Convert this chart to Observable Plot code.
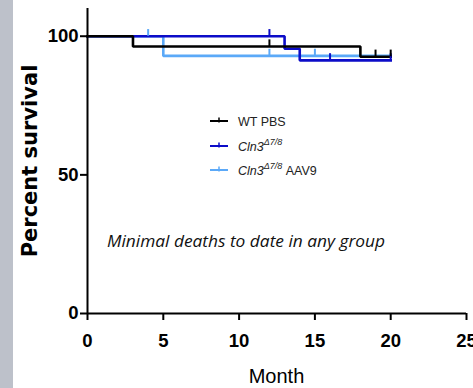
<!DOCTYPE html>
<html><head><meta charset="utf-8">
<script src="https://cdn.jsdelivr.net/npm/d3@7"></script>
<script src="https://cdn.jsdelivr.net/npm/@observablehq/plot@0.6"></script>
<style>html,body{margin:0;padding:0;background:#fff;overflow:hidden}</style>
</head><body><div id="chart"></div>
<script>
// ---- data ----
const seriesNames = ["WT PBS", "Cln3", "Cln3 AAV9"];
const seriesColors = ["#000000", "#0c0cc8", "#5ba9f8"];
const wtMonths = [0, 3, 18, 20];
const wtSurvival = [100, 96.3, 92.6, 92.6];
const wtCensored = [12, 19, 20];
const cln3Months = [0, 13, 14, 20];
const cln3Survival = [100, 95.5, 91.3, 91.3];
const cln3Censored = [12, 16, 20];
const aavMonths = [0, 5, 20];
const aavSurvival = [100, 92.9, 92.9];
const aavCensored = [4, 12, 15];
const xTicks = [0, 5, 10, 15, 20, 25];
const yTicks = [0, 50, 100];
const xLabel = "Month";
const yLabel = "Percent survival";
const note = "Minimal deaths to date in any group";

// ---- tables ----
const groups = [
  {name: seriesNames[2], color: seriesColors[2], m: aavMonths, s: aavSurvival, c: aavCensored},
  {name: seriesNames[1], color: seriesColors[1], m: cln3Months, s: cln3Survival, c: cln3Censored},
  {name: seriesNames[0], color: seriesColors[0], m: wtMonths, s: wtSurvival, c: wtCensored}
];
const stepAt = (g, t) => { let v = g.s[0]; g.m.forEach((mm, i) => { if (mm <= t) v = g.s[i]; }); return v; };
const lineData = groups.flatMap(g => g.m.map((mm, i) => ({series: g.name, color: g.color, month: mm, surv: g.s[i]})));
const censorData = groups.flatMap(g => g.c.map(t => ({series: g.name, color: g.color, month: t, surv: stepAt(g, t)})));

const sans = "'Liberation Sans', Arial, sans-serif";

const plot = Plot.plot({
  width: 473, height: 388,
  marginLeft: 87, marginRight: 7, marginTop: 8, marginBottom: 75,
  x: {domain: [0, 25]},
  y: {domain: [0, 110]},
  style: {background: "transparent", overflow: "visible", color: "#000"},
  marks: [
    Plot.line(lineData, {x: "month", y: "surv", z: "series", stroke: "color", curve: "step-after", strokeWidth: 2.6, strokeLinejoin: "miter", strokeLinecap: "square"}),
    Plot.ruleX(censorData, {x: "month", y1: "surv", y2: d => d.surv + 2.4, stroke: "color", strokeWidth: 2}),
    Plot.axisX({ticks: xTicks, tickSize: 7, tickPadding: 13, strokeWidth: 2, fontSize: 18.5, fontWeight: "bold", fontFamily: sans, label: null, fill: "#000"}),
    Plot.axisY({ticks: yTicks, tickSize: 7, tickPadding: 2, strokeWidth: 2, fontSize: 18.5, fontWeight: "bold", fontFamily: sans, label: null, fill: "#000"}),
    Plot.ruleX([0], {y1: 0, y2: 110, strokeWidth: 2}),
    Plot.ruleY([0], {x1: 0, x2: 25, strokeWidth: 2})
  ]
});
document.getElementById("chart").appendChild(plot);

const svg = d3.select(plot);
// gray band on the left edge
svg.insert("rect", ":first-child").attr("x", 0).attr("y", 0).attr("width", 13).attr("height", 388).attr("fill", "#bdc1ca");

// axis titles
svg.append("text").attr("transform", "translate(36.5,161) rotate(-90)")
  .attr("text-anchor", "middle").attr("font-family", "'DejaVu Sans', sans-serif")
  .attr("font-weight", "bold").attr("font-size", 21).attr("fill", "#000").text(yLabel);
svg.append("text").attr("x", 276.5).attr("y", 383).attr("text-anchor", "middle")
  .attr("font-family", sans).attr("font-size", 20).attr("fill", "#000").text(xLabel);

// legend
const legendRows = [
  {name: seriesNames[0], color: seriesColors[0], y: 121},
  {name: seriesNames[1], color: seriesColors[1], y: 146},
  {name: seriesNames[2], color: seriesColors[2], y: 170}
];
legendRows.forEach(r => {
  svg.append("line").attr("x1", 210).attr("x2", 228).attr("y1", r.y).attr("y2", r.y).attr("stroke", r.color).attr("stroke-width", 2);
  svg.append("line").attr("x1", 219).attr("x2", 219).attr("y1", r.y - 3.5).attr("y2", r.y + 1.5).attr("stroke", r.color).attr("stroke-width", 1.5);
  const t = svg.append("text").attr("x", 238).attr("y", r.y + 5).attr("text-anchor", "start")
    .attr("font-family", sans).attr("font-size", 12.5).attr("fill", "#222");
  if (r.name.startsWith("Cln3")) {
    t.append("tspan").attr("font-style", "italic").text("Cln3");
    t.append("tspan").attr("font-style", "italic").attr("font-size", 9).attr("dy", -6).text("\u03947/8");
    if (r.name.endsWith("AAV9")) t.append("tspan").attr("dy", 6).text(" AAV9");
  } else {
    t.text(r.name);
  }
});

// annotation
svg.append("text").attr("x", 107).attr("y", 247).attr("text-anchor", "start").attr("font-family", "'Open Sans', sans-serif")
  .attr("font-style", "italic").attr("font-size", 16).attr("fill", "#111")
  .attr("textLength", 278).attr("lengthAdjust", "spacingAndGlyphs").text(note);
</script>
</body></html>
